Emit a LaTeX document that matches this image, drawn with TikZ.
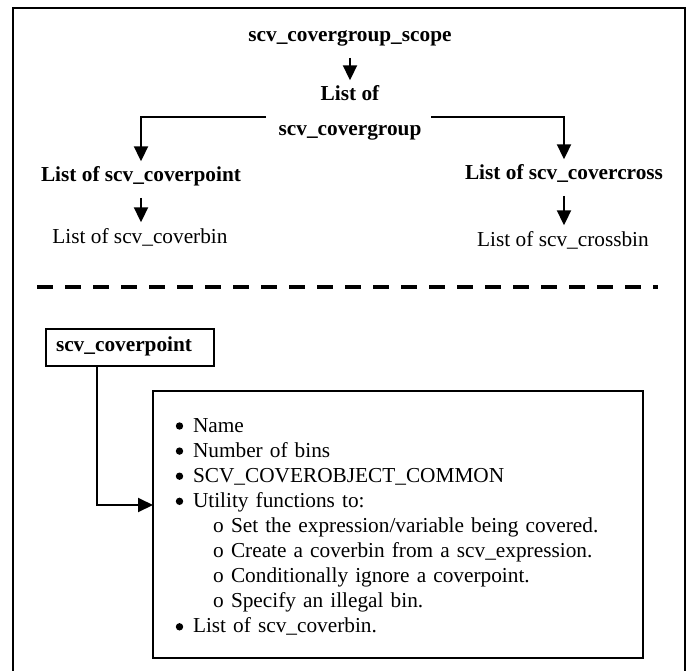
\documentclass[tikz,border=0pt]{standalone}
\usepackage{fontspec}
\setmainfont{Liberation Serif}
\usetikzlibrary{arrows.meta,calc}
\newcommand{\bulletgap}{\hspace*{18pt}}
\newcommand{\subdot}{\hspace*{38pt}\makebox[18pt][l]{o}}
\begin{document}
\begin{tikzpicture}[x=1pt,y=-1pt,
  txt/.style={inner sep=0pt, text height=14.5pt, text depth=4.6pt, anchor=base,
    font=\fontsize{21.3pt}{25.1pt}\selectfont},
  hd/.style={txt, font=\fontsize{21.3pt}{25.1pt}\selectfont\bfseries},
  arr/.style={line width=2pt, -{Triangle[length=15pt,width=14pt]},
    shorten <=11pt, shorten >=6pt},
  boxed/.style={draw, line width=1.2pt, outer sep=0pt, inner ysep=0pt,
    align=left, anchor=north west}]
\useasboundingbox (0,0) rectangle (693,671);

% outer frame (open at the bottom)
\draw[line width=1.5pt] (13,671) -- (13,8) -- (685,8) -- (685,671);

% hierarchy of lists
\node[hd] (scope) at (350,42) {scv\_covergroup\_scope};
\node[hd] (listof) at (350,101) {List of};
\node[hd] (group) at (350,136) {scv\_covergroup};
\node[hd] (cp) at (141,182) {List of scv\_coverpoint};
\node[txt] (cbin) at (140,243) {List of scv\_coverbin};
\node[hd] (cc) at (564,180) {List of scv\_covercross};
\node[txt] (xbin) at (563,246) {List of scv\_crossbin};

\coordinate (forkL) at (266,117);
\coordinate (forkR) at (431,117);

\draw[arr] (scope) -- (listof);
\draw[arr, shorten <=0pt] (forkL) -| (cp.north);
\draw[arr, shorten <=0pt] (forkR) -| (cc.north);
\draw[arr] (cp.south) -- (cp.south |- cbin.north);
\draw[arr] (cc.south) -- (cc.south |- xbin.north);

% separator
\draw[line width=4.5pt, dash pattern=on 16pt off 12pt] (37.3,287) -- (657.5,287);

% coverpoint contents
\node[boxed, inner xsep=10pt, text width=148pt, text height=22pt, text depth=15pt,
  font=\fontsize{21.3pt}{25.1pt}\selectfont\bfseries]
  (cpbox) at (46,329) {scv\_coverpoint};

\node[boxed, inner xsep=22pt, text width=446pt, text height=41pt, text depth=226pt,
  font=\fontsize{21.3pt}{25.1pt}\selectfont]
  (listbox) at (153,391) {%
  \bulletgap Name\\
  \bulletgap Number of bins\\
  \bulletgap SCV\_COVEROBJECT\_COMMON\\
  \bulletgap Utility functions to:\\
  \subdot Set the expression/variable being covered.\\
  \subdot Create a coverbin from a scv\_expression.\\
  \subdot Conditionally ignore a coverpoint.\\
  \subdot Specify an illegal bin.\\
  \bulletgap List of scv\_coverbin.};

% round bullets of the main items (line pitch 25.1pt)
\foreach \k in {0,1,2,3,8}
  \fill ($(listbox.north west)+(26.5,35+25.1*\k)$) circle (3.7pt);

\draw[arr, shorten <=0pt, shorten >=0pt]
  ([xshift=-33pt]cpbox.south) |- ([yshift=19.5pt]listbox.west);
\end{tikzpicture}
\end{document}
